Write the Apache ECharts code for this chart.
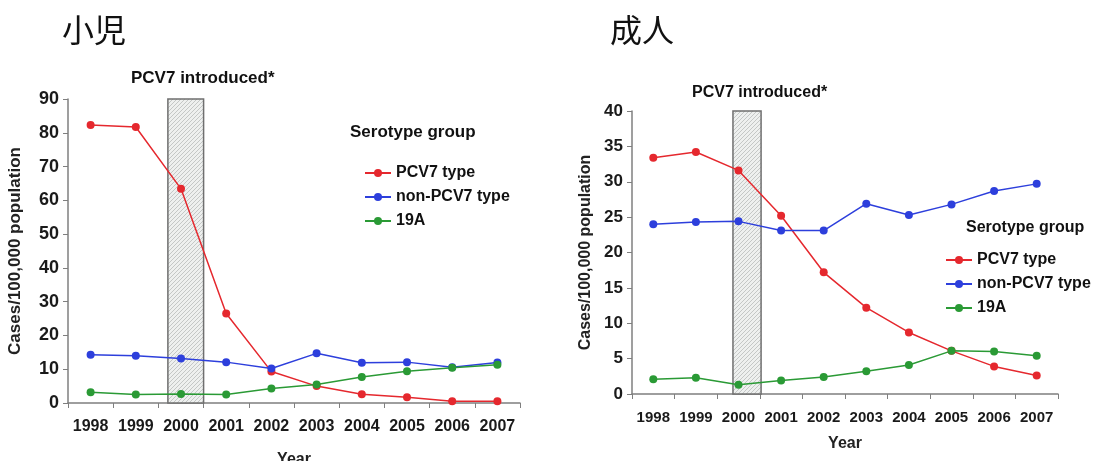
<!DOCTYPE html>
<html>
<head>
<meta charset="utf-8">
<script src="https://cdn.jsdelivr.net/npm/echarts@6/dist/echarts.min.js"></script>
<style>
html,body{margin:0;padding:0;background:#fff;}
#c{width:1094px;height:461px;}
</style>
</head>
<body>
<div id="c"></div>
<script>
// ---- data ----
const years = ['1998','1999','2000','2001','2002','2003','2004','2005','2006','2007'];
const seriesNames = ['PCV7 type','non-PCV7 type','19A'];

// 小児 (children)
const childPCV7    = [82.3, 81.7, 63.4, 26.5, 9.3, 5.0, 2.6, 1.7, 0.5, 0.5];
const childNonPCV7 = [14.3, 14.0, 13.2, 12.1, 10.2, 14.7, 11.9, 12.1, 10.6, 12.0];
const child19A     = [3.2, 2.5, 2.7, 2.5, 4.3, 5.5, 7.7, 9.4, 10.4, 11.3];

// 成人 (adults)
const adultPCV7    = [33.4, 34.2, 31.6, 25.2, 17.2, 12.2, 8.7, 6.1, 3.9, 2.6];
const adultNonPCV7 = [24.0, 24.3, 24.4, 23.1, 23.1, 26.9, 25.3, 26.8, 28.7, 29.7];
const adult19A     = [2.1, 2.3, 1.3, 1.9, 2.4, 3.2, 4.1, 6.1, 6.0, 5.4];

// PCV7 introduction period (in years), drawn as shaded box
const childIntro = [1999.71, 2000.5];
const adultIntro = [1999.87, 2000.53];

const childYTicks = {min: 0, max: 90, interval: 10};
const adultYTicks = {min: 0, max: 40, interval: 5};

// ---- styles ----
const colors = ['#e5282e', '#2d3fdc', '#2a9a35'];
const FONT = '"Liberation Sans", Arial, sans-serif';

function hatch() {
  const c = document.createElement('canvas');
  c.width = 4; c.height = 4;
  const g = c.getContext('2d');
  g.fillStyle = '#eef0ef';
  g.fillRect(0, 0, 4, 4);
  g.strokeStyle = '#c4c7c6';
  g.lineWidth = 1;
  g.beginPath();
  g.moveTo(0, 4); g.lineTo(4, 0);
  g.moveTo(-1, 1); g.lineTo(1, -1);
  g.moveTo(3, 5); g.lineTo(5, 3);
  g.stroke();
  return c;
}
const pattern = {image: hatch(), repeat: 'repeat'};

function catAxis(grid, labelSize, nameGap) {
  return {
    type: 'category', gridIndex: grid, data: years, boundaryGap: true,
    name: 'Year', nameLocation: 'middle', nameGap: nameGap,
    nameTextStyle: {fontFamily: FONT, fontWeight: 'bold', fontSize: 16, color: '#222'},
    axisLine: {lineStyle: {color: '#7f7f7f', width: 1.5}},
    axisTick: {show: true, interval: 0, alignWithLabel: false, length: 5, lineStyle: {color: '#7f7f7f'}},
    axisLabel: {interval: 0, fontFamily: FONT, fontWeight: 'bold', fontSize: labelSize, color: '#1a1a1a', margin: 16},
    splitLine: {show: false}
  };
}
function hiddenX(grid) {
  return {type: 'value', gridIndex: grid, min: 1997.5, max: 2007.5, show: false};
}
function valAxis(grid, t, labelSize, nameSize, nameGap) {
  return {
    type: 'value', gridIndex: grid, min: t.min, max: t.max, interval: t.interval,
    name: 'Cases/100,000 population', nameLocation: 'middle', nameGap: nameGap,
    nameTextStyle: {fontFamily: FONT, fontWeight: 'bold', fontSize: nameSize, color: '#222'},
    axisLine: {show: true, lineStyle: {color: '#7f7f7f', width: 1.5}},
    axisTick: {show: true, length: 5, lineStyle: {color: '#7f7f7f'}},
    axisLabel: {fontFamily: FONT, fontWeight: 'bold', fontSize: labelSize, color: '#1a1a1a', margin: 9},
    splitLine: {show: false}
  };
}
function lineSeries(name, data, xi, yi, color) {
  return {
    name: name, type: 'line', data: data, xAxisIndex: xi, yAxisIndex: yi,
    symbol: 'circle', symbolSize: 8, z: 5,
    lineStyle: {color: color, width: 1.5}, itemStyle: {color: color},
    emphasis: {disabled: true}
  };
}
function boxSeries(xi, yi, range, ymax) {
  return {
    type: 'line', data: [], xAxisIndex: xi, yAxisIndex: yi, silent: true, z: 1,
    markArea: {
      silent: true,
      itemStyle: {color: pattern, borderColor: '#6f6f6f', borderWidth: 1.5},
      data: [[{coord: [range[0], 0]}, {coord: [range[1], ymax]}]]
    }
  };
}
const legendBase = {
  orient: 'vertical', padding: 0, itemWidth: 26, itemHeight: 10, itemGap: 8,
  selectedMode: false, data: seriesNames,
  textStyle: {fontFamily: FONT, fontWeight: 'bold', fontSize: 16, color: '#111', lineHeight: 16}
};
const txt = (s, w) => ({fontFamily: FONT, fontWeight: w || 'bold', fontSize: s, color: '#111'});

const option = {
  animation: false,
  backgroundColor: '#fff',
  title: [
    {text: '小児', left: 62, top: 14, padding: 0, textStyle: {fontFamily: '"Noto Sans CJK JP"', fontWeight: 'normal', fontSize: 32, color: '#111'}},
    {text: '成人', left: 610, top: 14, padding: 0, textStyle: {fontFamily: '"Noto Sans CJK JP"', fontWeight: 'normal', fontSize: 32, color: '#111'}},
    {text: 'PCV7 introduced*', left: 131, top: 70, padding: 0, textStyle: txt(17)},
    {text: 'PCV7 introduced*', left: 692, top: 85, padding: 0, textStyle: txt(16)},
    {text: 'Serotype group', left: 350, top: 124, padding: 0, textStyle: txt(17)},
    {text: 'Serotype group', left: 966, top: 220, padding: 0, textStyle: txt(16)}
  ],
  legend: [
    Object.assign({}, legendBase, {left: 364, top: 165}),
    Object.assign({}, legendBase, {left: 945, top: 252})
  ],
  grid: [
    {left: 68, top: 99, width: 452, height: 304, outerBoundsMode: 'none', containLabel: false},
    {left: 632, top: 111, width: 426, height: 283, outerBoundsMode: 'none', containLabel: false}
  ],
  xAxis: [catAxis(0, 16, 49), catAxis(1, 15, 42), hiddenX(0), hiddenX(1)],
  yAxis: [valAxis(0, childYTicks, 18, 17, 44), valAxis(1, adultYTicks, 17, 16, 38)],
  series: [
    boxSeries(2, 0, childIntro, childYTicks.max),
    boxSeries(3, 1, adultIntro, adultYTicks.max),
    lineSeries(seriesNames[0], childPCV7, 0, 0, colors[0]),
    lineSeries(seriesNames[1], childNonPCV7, 0, 0, colors[1]),
    lineSeries(seriesNames[2], child19A, 0, 0, colors[2]),
    lineSeries(seriesNames[0], adultPCV7, 1, 1, colors[0]),
    lineSeries(seriesNames[1], adultNonPCV7, 1, 1, colors[1]),
    lineSeries(seriesNames[2], adult19A, 1, 1, colors[2])
  ]
};
const chart = echarts.init(document.getElementById('c'), null, {renderer: 'canvas'});
chart.setOption(option);
</script>
</body>
</html>
